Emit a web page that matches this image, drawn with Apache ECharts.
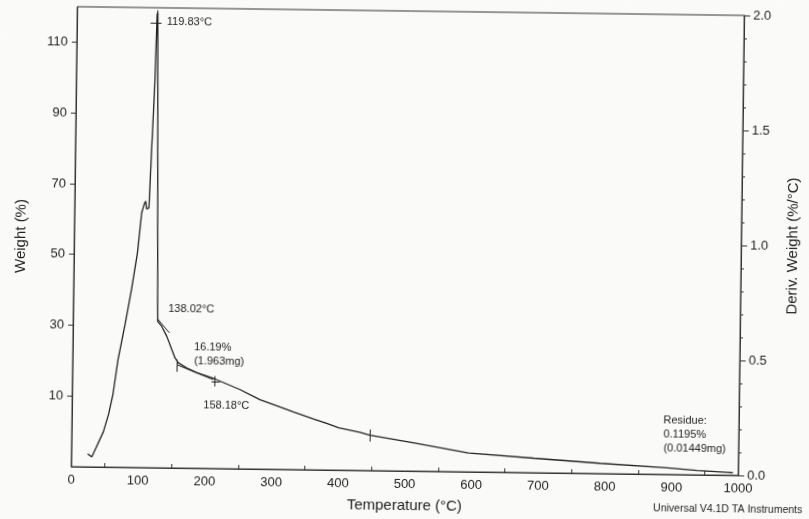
<!DOCTYPE html>
<html>
<head>
<meta charset="utf-8">
<script src="https://cdn.jsdelivr.net/npm/echarts@6/dist/echarts.min.js"></script>
<style>
  html, body { margin: 0; padding: 0; background: #fafaf9; overflow: hidden; }
  #chart { width: 809px; height: 519px; transform: rotate(0.75deg); transform-origin: 50% 50%; }
</style>
</head>
<body>
<div id="chart"></div>
<script>
// ---- data (TGA weight curve) ----
const tempC = [24.5, 30.6, 37, 47.5, 55, 61, 68, 78, 87, 95, 100.6, 104.3, 106.3, 108, 111.4,
  114.3, 117.8, 119.9, 120.9, 126.3, 126.8, 132.9, 140.6, 153.4, 158.6, 171.2, 186.4, 213.8,
  251.5, 281.7, 311.9, 332, 362, 382, 400, 432, 447, 512, 595, 693, 793, 893, 938, 983, 992];
const weightPct = [-6.3, -7.2, -4.5, 0, 5, 10.5, 20.4, 30.5, 40.5, 50.6, 62, 64.5, 65.3, 63.1, 63.4,
  79.9, 98.7, 118, 118.7, 37.5, 31.4, 30, 27.2, 21.1, 19.7, 18.3, 17.0, 15.3,
  12.4, 9.6, 7.6, 6.3, 4.4, 3.2, 2.0, 0.8, 0.0, -2.0, -4.65, -5.9, -7.1, -8.1, -8.75, -9.2, -9.3];

// analysis marks (x1, y1, x2, y2) in data units
const analysisMarks = [
  [110.2, 115.8, 126.7, 115.8],
  [120.0, 112.5, 120.0, 119.3],
  [126.7, 32.05, 144.4, 28.2],
  [156.1, 19.2, 211.3, 15.1],
  [156.6, 17.2, 156.6, 20.6],
  [213.7, 13.2, 213.7, 16.1],
  [208.7, 14.6, 221.1, 14.6],
  [447.3, -1.8, 447.3, 1.6]
];

// axis ticks / labels
const xLabelValues = [0, 100, 200, 300, 400, 500, 600, 700, 800, 900, 1000];
const xTickValues = [50, 150, 250, 350, 450, 550, 650, 750, 850, 950];
const weightTickValues = [10, 30, 50, 70, 90, 110];

// annotation texts
const annotations = [
  { text: '119.83°C', x: 163.8, y: 24.9 },
  { text: '138.02°C', x: 169, y: 311.5 },
  { text: '16.19%', x: 195.2, y: 349.6 },
  { text: '(1.963mg)', x: 195.4, y: 363.6 },
  { text: '158.18°C', x: 205.3, y: 407.7 },
  { text: 'Residue:', x: 665.5, y: 416.5 },
  { text: '0.1195%', x: 665.7, y: 430.5 },
  { text: '(0.01449mg)', x: 665.9, y: 444.8 }
];

const FONT = 'Liberation Sans';
const INK = '#222';

const chart = echarts.init(document.getElementById('chart'), null, { renderer: 'canvas' });

const option = {
  backgroundColor: '#fafaf9',
  animation: false,
  grid: { left: 74, right: 68, top: 11, bottom: 48, show: true, borderColor: '#333', borderWidth: 1, backgroundColor: 'transparent' },
  xAxis: {
    type: 'value', min: 0, max: 1000,
    name: 'Temperature (°C)', nameLocation: 'middle', nameGap: 27,
    nameTextStyle: { fontFamily: FONT, fontSize: 15, color: INK },
    axisLine: { show: true, onZero: false, lineStyle: { color: '#333', width: 1 } },
    axisTick: { show: true, inside: true, length: 4, customValues: xTickValues, lineStyle: { color: '#333' } },
    axisLabel: { customValues: xLabelValues, fontFamily: FONT, fontSize: 13, color: INK, margin: 7, formatter: v => String(v) },
    splitLine: { show: false }
  },
  yAxis: [
    {
      type: 'value', min: -10, max: 120, position: 'left',
      name: 'Weight (%)', nameLocation: 'middle', nameGap: 46,
      nameTextStyle: { fontFamily: FONT, fontSize: 15, color: INK },
      axisLine: { show: true, onZero: false, lineStyle: { color: '#333', width: 1 } },
      axisTick: { show: true, length: 5, customValues: weightTickValues, lineStyle: { color: '#333' } },
      axisLabel: { customValues: weightTickValues, fontFamily: FONT, fontSize: 13, color: INK, margin: 9, formatter: v => String(v) },
      splitLine: { show: false }
    },
    {
      type: 'value', min: 0, max: 2, interval: 0.5, position: 'right',
      name: 'Deriv. Weight (%/°C)', nameLocation: 'middle', nameGap: 44,
      nameTextStyle: { fontFamily: FONT, fontSize: 15, color: INK },
      axisLine: { show: true, onZero: false, lineStyle: { color: '#333', width: 1 } },
      axisTick: { show: true, length: 6, lineStyle: { color: '#333' } },
      minorTick: { show: true, splitNumber: 5, length: 3, lineStyle: { color: '#333' } },
      axisLabel: { fontFamily: FONT, fontSize: 13, color: INK, margin: 9, formatter: v => v.toFixed(1) },
      splitLine: { show: false }
    }
  ],
  series: [
    {
      name: 'Weight', type: 'line', yAxisIndex: 0,
      data: tempC.map((t, i) => [t, weightPct[i]]),
      showSymbol: false, smooth: false,
      lineStyle: { color: INK, width: 1.3 }
    },
    {
      name: 'marks', type: 'lines', coordinateSystem: 'cartesian2d', yAxisIndex: 0,
      data: analysisMarks.map(m => ({ coords: [[m[0], m[1]], [m[2], m[3]]] })),
      lineStyle: { color: INK, width: 1, opacity: 1 },
      silent: true
    }
  ],
  graphic: annotations.map(a => ({
    type: 'text', x: a.x, y: a.y, silent: true,
    style: { text: a.text, fontFamily: FONT, fontSize: 11, fill: INK, verticalAlign: 'middle', align: 'left' }
  })).concat([{
    type: 'text', x: 730.9, y: 505.6, silent: true,
    style: { text: 'Universal V4.1D TA Instruments', fontFamily: FONT, fontSize: 10.5, fill: INK, verticalAlign: 'middle', align: 'center' }
  }])
};

chart.setOption(option);
</script>
</body>
</html>
